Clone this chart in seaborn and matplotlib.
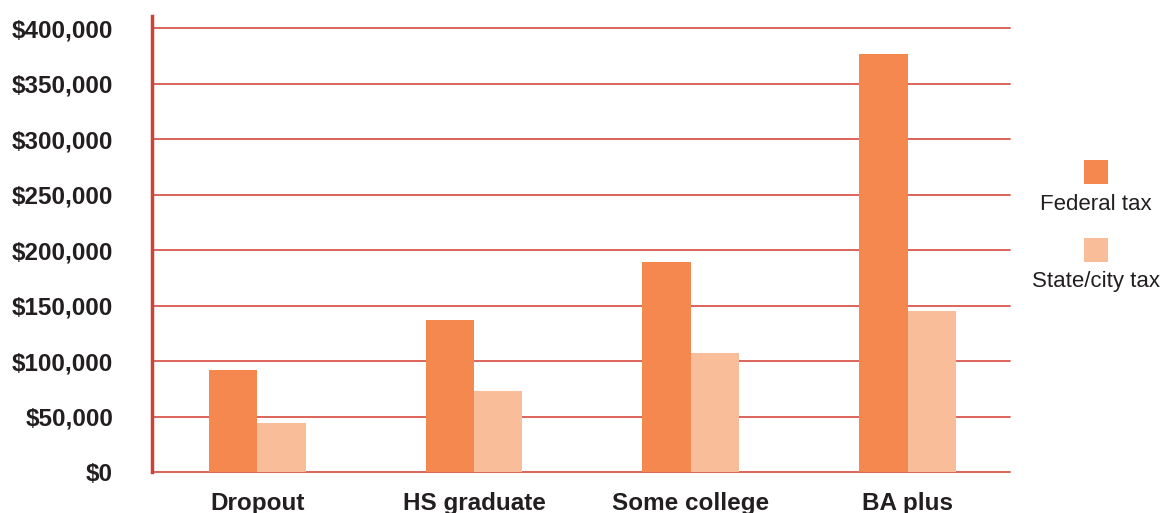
import matplotlib
matplotlib.use("Agg")
import matplotlib.pyplot as plt
import seaborn as sns
import pandas as pd
from matplotlib.patches import Rectangle
from matplotlib.ticker import FuncFormatter

categories = ["Dropout", "HS graduate", "Some college", "BA plus"]
federal_tax = [92000, 137000, 189000, 377000]
state_city_tax = [44000, 73000, 107000, 145000]
series_names = ["Federal tax", "State/city tax"]
y_ticks = [0, 50000, 100000, 150000, 200000, 250000, 300000, 350000, 400000]

df = pd.DataFrame({
    "category": categories * 2,
    "series": [series_names[0]] * 4 + [series_names[1]] * 4,
    "value": federal_tax + state_city_tax,
})

sns.set_theme(style="white")
plt.rcParams["font.family"] = ["Liberation Sans", "DejaVu Sans"]

colors = {"Federal tax": "#F4884F", "State/city tax": "#F9BE99"}
text_color = "#231f20"
grid_color = "#d9574b"

fig = plt.figure(figsize=(11.64, 5.13), dpi=100)
ax = fig.add_axes([152 / 1164, 1 - 472 / 513, (1010 - 152) / 1164, (472 - 16) / 513])

sns.barplot(data=df, x="category", y="value", hue="series", palette=colors,
            width=0.447, gap=0, saturation=1, ax=ax, legend=False, linewidth=0)

ax.set_ylim(0, 411000)
ax.set_xlim(-0.485, 3.472)
ax.set_yticks(y_ticks)
ax.yaxis.set_major_formatter(FuncFormatter(lambda v, p: f"${int(v):,}"))
ax.set_xlabel("")
ax.set_ylabel("")
for y in y_ticks:
    ax.axhline(y, color=grid_color, lw=1.3, zorder=0, clip_on=False)

for s in ["top", "right", "bottom"]:
    ax.spines[s].set_visible(False)
ax.spines["left"].set_color("#c8443a")
ax.spines["left"].set_linewidth(2.5)

ax.tick_params(axis="y", length=0, pad=28, labelsize=17.5, labelcolor=text_color)
ax.tick_params(axis="x", length=0, pad=14.5, labelsize=17.5, labelcolor=text_color)
for lbl in ax.get_yticklabels() + ax.get_xticklabels():
    lbl.set_fontweight("bold")

# legend (squares above text)
W, H = 1164, 513
for i, name in enumerate(series_names):
    sq_top = 160 + i * 78
    fig.add_artist(Rectangle((1084 / W, 1 - (sq_top + 24) / H), 24 / W, 24 / H,
                             transform=fig.transFigure, color=colors[name], lw=0))
    fig.text(1096 / W, 1 - (sq_top + 44) / H, name, ha="center", va="center",
             fontsize=16, color=text_color)

fig.savefig("out.png", dpi=100)
